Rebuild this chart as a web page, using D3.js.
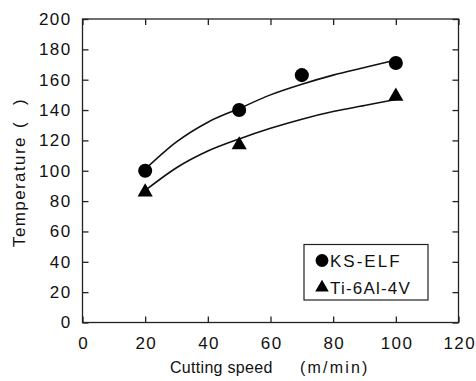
<!DOCTYPE html>
<head>
  <script src="https://d3js.org/d3.v7.min.js"></script>
  <title>Cutting temperature</title>
  <style>
    body { margin: 0; background: #fff; }
    svg text { font-family: "Liberation Sans", Arial, sans-serif; fill: #111; white-space: pre; }
  </style>
</head>
<body>
<div id="chart"></div>
<script>
  // measured points
  const ksSpeed = [20, 50, 70, 100];
  const ksTemp = [100, 140, 163, 171];
  const tiSpeed = [20, 50, 100];
  const tiTemp = [86, 117, 149];
  // fitted curves
  const fitSpeed = [20, 30, 40, 50, 60, 70, 80, 90, 100];
  const ksFit = [101, 119, 132, 141, 150, 157, 163, 168, 173];
  const tiFit = [87, 102, 113, 121, 128, 134, 139, 143, 147];
  const xTicks = [0, 20, 40, 60, 80, 100, 120];
  const yTicks = [0, 20, 40, 60, 80, 100, 120, 140, 160, 180, 200];

  const width = 476, height = 381;
  const m = {left: 82.5, top: 19, right: 458.5, bottom: 322.5};

  const svg = d3.select("#chart").append("svg")
    .attr("width", width).attr("height", height);

  const x = d3.scaleLinear().domain([0, 120]).range([m.left, m.right]);
  const y = d3.scaleLinear().domain([0, 200]).range([m.bottom, m.top]);

  // frame
  svg.append("rect")
    .attr("x", m.left).attr("y", m.top)
    .attr("width", m.right - m.left).attr("height", m.bottom - m.top)
    .attr("fill", "none").attr("stroke", "#222").attr("stroke-width", 1.3);

  const tick = 6;
  const styleAxis = g => {
    g.select(".domain").remove();
    g.selectAll("line").attr("stroke", "#222").attr("stroke-width", 1.3);
    g.selectAll("text").attr("font-size", 17).attr("letter-spacing", 1.4)
      .attr("font-family", "Liberation Sans, Arial, sans-serif");
  };

  // bottom / top
  svg.append("g").attr("transform", `translate(0,${m.bottom})`)
    .call(d3.axisBottom(x).tickValues(xTicks).tickSizeInner(-tick).tickSizeOuter(0).tickPadding(14))
    .call(styleAxis)
    .selectAll("text").attr("dx", 0.7);
  svg.append("g").attr("transform", `translate(0,${m.top})`)
    .call(d3.axisTop(x).tickValues(xTicks).tickSizeInner(-tick).tickSizeOuter(0).tickFormat(""))
    .call(styleAxis);
  // left / right
  svg.append("g").attr("transform", `translate(${m.left},0)`)
    .call(d3.axisLeft(y).tickValues(yTicks).tickSizeInner(-tick).tickSizeOuter(0).tickPadding(11))
    .call(styleAxis);
  svg.append("g").attr("transform", `translate(${m.right},0)`)
    .call(d3.axisRight(y).tickValues(yTicks).tickSizeInner(-tick).tickSizeOuter(0).tickFormat(""))
    .call(styleAxis);

  // curves
  const line = d3.line().curve(d3.curveMonotoneX);
  [ksFit, tiFit].forEach(fit => {
    svg.append("path")
      .attr("d", line(fitSpeed.map((s, i) => [x(s), y(fit[i])])))
      .attr("fill", "none").attr("stroke", "#111").attr("stroke-width", 1.6);
  });

  const circleSym = d3.symbol(d3.symbolCircle, 155);
  const triSym = d3.symbol(d3.symbolTriangle, 100);

  svg.append("g").selectAll("path")
    .data(ksSpeed)
    .join("path")
      .attr("d", circleSym)
      .attr("transform", (d, i) => `translate(${x(d)},${y(ksTemp[i])})`)
      .attr("fill", "#000");
  svg.append("g").selectAll("path")
    .data(tiSpeed)
    .join("path")
      .attr("d", triSym)
      .attr("transform", (d, i) => `translate(${x(d)},${y(tiTemp[i])})`)
      .attr("fill", "#000");

  // axis titles
  svg.append("text")
    .attr("x", 170).attr("y", 373)
    .attr("font-size", 16).attr("letter-spacing", 0.3)
    .text("Cutting speed");
  svg.append("text")
    .attr("x", 300).attr("y", 373)
    .attr("font-size", 16).attr("letter-spacing", 2.2)
    .text("(m/min)");
  const yt = svg.append("g").attr("transform", "translate(25,247) rotate(-90)");
  yt.append("text").attr("font-size", 17).attr("letter-spacing", 1.4).text("Temperature");
  yt.append("text").attr("x", 119).attr("font-size", 17).text("(");
  yt.append("text").attr("x", 142).attr("font-size", 17).text(")");

  // legend
  const leg = svg.append("g").attr("transform", "translate(304,244.5)");
  leg.append("rect").attr("width", 124).attr("height", 55.5)
    .attr("fill", "#fff").attr("stroke", "#222").attr("stroke-width", 1.2);
  leg.append("path").attr("d", d3.symbol(d3.symbolCircle, 130)).attr("transform", "translate(18,16)");
  leg.append("path").attr("d", d3.symbol(d3.symbolTriangle, 80)).attr("transform", "translate(18,43)");
  leg.append("text").attr("x", 26).attr("y", 22).attr("font-size", 17).attr("letter-spacing", 2).text("KS-ELF");
  leg.append("text").attr("x", 26).attr("y", 49).attr("font-size", 17).attr("letter-spacing", 1.2).text("Ti-6Al-4V");
</script>
</body>
